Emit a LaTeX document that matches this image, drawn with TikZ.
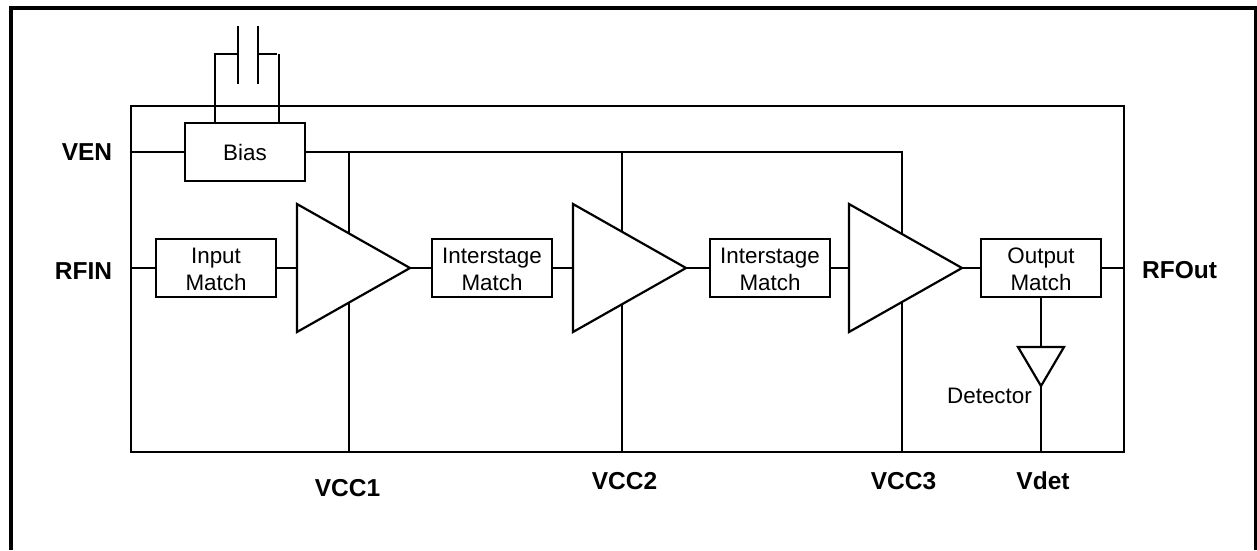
\documentclass[tikz,border=0pt]{standalone}
\usepackage{fontspec}
\setmainfont{Liberation Sans}
\newcommand{\lowr}[1]{\raisebox{-1pt}[\height][\depth]{#1}}
\tikzset{
  x=1pt,y=-1pt,
  wire/.style={line width=2.2pt,line cap=butt},
  frameline/.style={line width=4pt,line cap=butt},
  block/.style={draw,line width=2.2pt,fill=white,inner sep=0pt,minimum width=120pt,minimum height=58pt,align=center,font=\fontsize{22.4}{27}\selectfont},
  amp/.style={draw,line width=2.2pt,fill=white,line join=miter},
  pin/.style={inner sep=0pt,font=\fontsize{24.5}{28}\selectfont\bfseries},
  note/.style={inner sep=0pt,font=\fontsize{22.4}{26}\selectfont}
}
\begin{document}
\begin{tikzpicture}
\useasboundingbox (0,0) rectangle (1257,550);
% frame
\draw[frameline] (11,550) -- (11,7.5) -- (1257,7.5);
\draw[line width=2.6pt] (1255.5,7.5) -- (1255.5,550);
% package outline
\draw[wire] (131,106) rectangle (1124,452);
% named points
\coordinate (venR) at (131,152);
\coordinate (rfinR) at (131,268);
\coordinate (rfoutR) at (1124,268);
\coordinate (biasbus) at (902,152);
\coordinate (vccA) at (349,452);
\coordinate (vccB) at (622,452);
\coordinate (vccC) at (902,452);
\coordinate (vdetB) at (1041,452);
% blocks
\node[block] (bias) at (245,152) {Bias};
\node[block] (input) at (216,268) {\lowr{Input}\\\lowr{Match}};
\node[block] (inter1) at (492,268) {\lowr{Interstage}\\\lowr{Match}};
\node[block] (inter2) at (770,268) {\lowr{Interstage}\\\lowr{Match}};
\node[block] (output) at (1041,268) {\lowr{Output}\\\lowr{Match}};
% amp corners
\coordinate (a1in) at (297,268); \coordinate (a1t) at (297,204); \coordinate (a1b) at (297,332); \coordinate (a1o) at (410,268);
\coordinate (a2in) at (573,268); \coordinate (a2t) at (573,204); \coordinate (a2b) at (573,332); \coordinate (a2o) at (686,268);
\coordinate (a3in) at (849,268); \coordinate (a3t) at (849,204); \coordinate (a3b) at (849,332); \coordinate (a3o) at (962,268);
\coordinate (dL) at (1018,347); \coordinate (dR) at (1064,347); \coordinate (dT) at (1041,386); \coordinate (dI) at (1041,347);
% capacitor
\coordinate (capL) at (238,54); \coordinate (capR) at (258,54);
\coordinate (capLb) at (215,54); \coordinate (capRb) at (279,54);
\coordinate (biasL) at (215,123); \coordinate (biasR) at (279,123);
\draw[wire] (238,26) -- (238,84);
\draw[wire] (258,26) -- (258,84);
\draw[wire] (capL) -- (capLb) -- (biasL);
\draw[wire] (capR) -- (277,54);
\draw[wire] (capRb) -- (biasR);
% buses
\draw[wire] (venR) -- (bias.west);
\draw[wire] (bias.east) -- (biasbus) -- (vccC);
\draw[wire] (349,152) -- (vccA);
\draw[wire] (622,152) -- (vccB);
% signal chain
\draw[wire] (rfinR) -- (input.west);
\draw[wire] (input.east) -- (a1in);
\draw[wire] (a1o) -- (inter1.west);
\draw[wire] (inter1.east) -- (a2in);
\draw[wire] (a2o) -- (inter2.west);
\draw[wire] (inter2.east) -- (a3in);
\draw[wire] (a3o) -- (output.west);
\draw[wire] (output.east) -- (rfoutR);
\draw[wire] (output.south) -- (dI);
\draw[wire] (dT) -- (vdetB);
% amplifiers
\draw[amp] (a1t) -- (a1o) -- (a1b) -- cycle;
\draw[amp] (a2t) -- (a2o) -- (a2b) -- cycle;
\draw[amp] (a3t) -- (a3o) -- (a3b) -- cycle;
\draw[amp] (dL) -- (dR) -- (dT) -- cycle;
% labels
\node[pin] (lven) at (87,152) {VEN};
\node[pin] (lrfin) at (83.5,271) {RFIN};
\node[pin] (lrfout) at (1179.5,270.5) {RFOut};
\node[pin] (lv1) at (347.5,488.5) {VCC1};
\node[pin] (lv2) at (624.5,481) {VCC2};
\node[pin] (lv3) at (903.5,481) {VCC3};
\node[pin] (lvd) at (1043,481) {Vdet};
\node[note] (ldet) at (989.5,396) {Detector};
\end{tikzpicture}
\end{document}
